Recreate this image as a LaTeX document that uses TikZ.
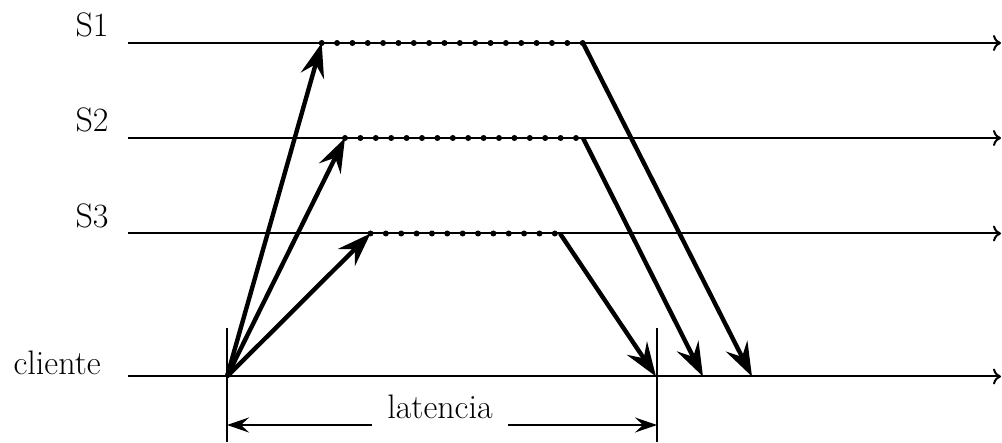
\documentclass[tikz,border=0pt]{standalone}
\usepackage{tikz}
\usetikzlibrary{arrows.meta,calc}
\tikzset{
  axis/.style={line width=1pt, -{To[length=4pt,width=8pt]}},
  msg/.style={line width=2.2pt, -{Stealth[length=17pt,width=12pt,inset=6pt]}},
  dimarrow/.style={line width=1pt, -{Stealth[length=11pt,width=7.5pt,inset=4pt]}},
  tick/.style={line width=1pt}
}
\begin{document}
\begin{tikzpicture}[x=0.5pt, y=-0.5pt,
  lbl/.style={font=\fontsize{17}{20}\selectfont, inner sep=0pt}
]
\useasboundingbox (0,0) rectangle (1002,443);
\coordinate (s1l) at (128,43);
\coordinate (s1r) at (1001,43);
\coordinate (s2l) at (128,138);
\coordinate (s2r) at (1001,138);
\coordinate (s3l) at (128,233.5);
\coordinate (s3r) at (1001,233.5);
\coordinate (cl) at (128,376.5);
\coordinate (cr) at (1001,376.5);
\node[lbl, anchor=base east] (s1) at (109,37) {S1};
\node[lbl, anchor=base east] (s2) at (109,132) {S2};
\node[lbl, anchor=base east] (s3) at (109,227.5) {S3};
\node[lbl, anchor=base east] (cli) at (101,375) {cliente};
\draw[axis] (s1l) -- (s1r);
\draw[axis] (s2l) -- (s2r);
\draw[axis] (s3l) -- (s3r);
\draw[axis] (cl) -- (cr);
\coordinate (c0) at (227,376.5);
\coordinate (a1) at (321.7,43);
\coordinate (a2) at (345,138);
\coordinate (a3) at (370.5,233.5);
\coordinate (b1) at (583,43);
\coordinate (b2) at (583,138);
\coordinate (b3) at (560,233.5);
\coordinate (r1) at (752,376.5);
\coordinate (r2) at (703,376.5);
\coordinate (r3) at (656,376.5);
\foreach \i in {0,...,17} \fill ($(a1)+(\i*15.35,0)$) circle (3);
\foreach \i in {0,...,15} \fill ($(a2)+(\i*15.4,0)$) circle (3);
\foreach \i in {0,...,12} \fill ($(a3)+(\i*15.36,0)$) circle (3);
\draw[msg] (c0) -- (a1);
\draw[msg] (c0) -- (a2);
\draw[msg] (c0) -- (a3);
\draw[msg] (b1) -- (r1);
\draw[msg] (b2) -- (r2);
\draw[msg] (b3) -- (r3);
\coordinate (t1a) at (227,328);
\coordinate (t1b) at (227,442);
\coordinate (t2a) at (657,328);
\coordinate (t2b) at (657,442);
\draw[tick] (t1a) -- (t1b);
\draw[tick] (t2a) -- (t2b);
\node[lbl, anchor=base, inner xsep=7.5pt] (lat) at (440,419) {latencia};
\coordinate (la) at (227,425);
\coordinate (lb) at (657,425);
\draw[dimarrow] (lat.west |- la) -- (la);
\draw[dimarrow] (lat.east |- lb) -- (lb);
\end{tikzpicture}
\end{document}
